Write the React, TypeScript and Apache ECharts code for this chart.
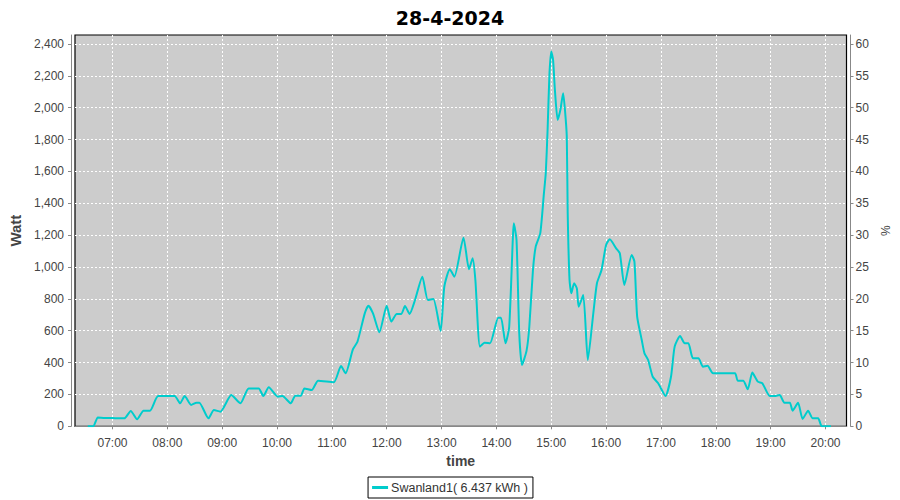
import React, { useEffect, useRef } from "react";
import * as echarts from "echarts";

const chartTitle = "28-4-2024";
const seriesName = "Swanland1( 6.437 kWh )";

const times: string[] = [
  "06:33", "06:39", "06:44", "06:52", "07:00", "07:06", "07:13", "07:20", "07:27", "07:34",
  "07:41", "07:50", "08:08", "08:14", "08:19", "08:26", "08:32", "08:35", "08:45", "08:51",
  "08:58", "09:10", "09:20", "09:29", "09:40", "09:45", "09:51", "10:01", "10:06", "10:15",
  "10:20", "10:26", "10:30", "10:38", "10:45", "11:02", "11:10", "11:15", "11:23", "11:28",
  "11:36", "11:40", "11:45", "11:52", "12:00", "12:05", "12:11", "12:16", "12:20", "12:25",
  "12:31", "12:39", "12:45", "12:51", "12:59", "13:03", "13:09", "13:14", "13:24", "13:30",
  "13:34", "13:37", "13:42", "13:47", "13:53", "14:02", "14:05", "14:10", "14:14", "14:18",
  "14:19", "14:22", "14:25", "14:28", "14:33", "14:36", "14:40", "14:43", "14:48", "14:52",
  "14:54", "14:56", "14:58", "15:00", "15:02", "15:04", "15:07", "15:10", "15:13", "15:15",
  "15:17", "15:18", "15:20", "15:22", "15:25", "15:28", "15:30", "15:35", "15:40", "15:46",
  "15:50", "15:55", "16:00", "16:04", "16:11", "16:15", "16:20", "16:28", "16:31", "16:34",
  "16:39", "16:42", "16:46", "16:51", "16:57", "17:05", "17:11", "17:15", "17:21", "17:26",
  "17:30", "17:35", "17:41", "17:46", "17:51", "17:57", "18:21", "18:24", "18:30", "18:35",
  "18:40", "18:46", "18:51", "18:59", "19:04", "19:10", "19:15", "19:21", "19:24", "19:30",
  "19:35", "19:41", "19:46", "19:52", "19:56", "20:06",
];

const watts: number[] = [
  0, 0, 56, 52, 52, 50, 50, 96, 44, 98,
  98, 190, 190, 144, 190, 134, 148, 148, 50, 102,
  92, 196, 144, 238, 238, 190, 245, 186, 190, 144,
  192, 192, 238, 228, 286, 276, 378, 333, 483, 531,
  709, 757, 709, 590, 757, 657, 705, 705, 755, 705,
  793, 939, 793, 799, 598, 876, 986, 939, 1184, 986,
  1055, 918, 500, 525, 521, 682, 682, 521, 625, 1180,
  1274, 1170, 584, 385, 475, 625, 981, 1128, 1212, 1463,
  1588, 1860, 2206, 2352, 2300, 2111, 1923, 1986, 2091, 1986,
  1818, 1337, 918, 835, 898, 866, 751, 824, 416, 709,
  898, 981, 1138, 1174, 1117, 1086, 887, 1075, 1034, 688,
  542, 458, 416, 311, 270, 190, 311, 500, 567, 521,
  521, 427, 427, 374, 380, 333, 333, 286, 286, 232,
  337, 280, 270, 190, 190, 196, 148, 148, 98, 148,
  46, 98, 50, 50, 0, 0,
];

const xStart = "06:19";
const xEnd = "20:23";
const wattMax = 2456;
const pctMax = 61.4;

function ts(hm: string): number {
  const [h, m] = hm.split(":").map(Number);
  return new Date(2024, 3, 28, h, m).getTime();
}
function pad(n: number) {
  return n < 10 ? "0" + n : "" + n;
}

export default function App() {
  const ref = useRef<HTMLDivElement>(null);
  useEffect(() => {
    if (!ref.current) return;
    const chart = echarts.init(ref.current, undefined, { renderer: "svg" });
    const labelFont = { fontFamily: "Liberation Sans", fontSize: 12, color: "#444" };
    const nameFont = { fontFamily: "Liberation Sans", fontSize: 14, fontWeight: "bold" as const, color: "#444" };
    const axisLine = { show: true, lineStyle: { color: "#888", width: 1 } };
    const axisTick = { show: true, length: 3, lineStyle: { color: "#888" } };
    const gridLine = {
      show: true,
      showMinLine: false,
      showMaxLine: false,
      lineStyle: { color: "#fff", type: [2, 2], width: 1 },
    };
    chart.setOption({
      animation: false,
      backgroundColor: "#fff",
      title: {
        text: chartTitle,
        left: "center",
        top: 3,
        textStyle: { fontFamily: "DejaVu Sans", fontWeight: "bold", fontSize: 19, color: "#000" },
      },
      grid: {
        left: 75,
        right: 53.5,
        top: 35,
        bottom: 73.7,
        show: true,
        backgroundColor: "#cccccc",
        borderColor: "#000",
        borderWidth: 1.2,
      },
      legend: {
        bottom: 2,
        left: "center",
        data: [seriesName],
        icon: "rect",
        itemWidth: 16,
        itemHeight: 3,
        itemGap: 4,
        borderColor: "#000",
        borderWidth: 1,
        padding: [4, 5, 4, 4],
        textStyle: { fontFamily: "Liberation Sans", fontSize: 12.5, color: "#333", padding: [0, 0, 0, -2] },
      },
      xAxis: {
        type: "time",
        min: ts(xStart),
        max: ts(xEnd),
        minInterval: 3600 * 1000,
        maxInterval: 3600 * 1000,
        offset: 4,
        name: "time",
        nameLocation: "middle",
        nameGap: 22,
        nameTextStyle: nameFont,
        axisLine,
        axisTick,
        axisLabel: {
          ...labelFont,
          margin: 7,
          showMinLabel: false,
          showMaxLabel: false,
          formatter: (v: number) => {
            const d = new Date(v);
            return pad(d.getHours()) + ":" + pad(d.getMinutes());
          },
        },
        splitLine: gridLine,
      },
      yAxis: [
        {
          type: "value",
          min: 0,
          max: wattMax,
          interval: 200,
          offset: 4,
          position: "left",
          name: "Watt",
          nameLocation: "middle",
          nameGap: 44,
          nameRotate: 90,
          nameTextStyle: { ...nameFont, fontSize: 15 },
          axisLine,
          axisTick,
          axisLabel: {
            ...labelFont,
            margin: 7,
            showMaxLabel: false,
            formatter: (v: number) => v.toLocaleString("en-US"),
          },
          splitLine: gridLine,
        },
        {
          type: "value",
          min: 0,
          max: pctMax,
          interval: 5,
          offset: 4,
          position: "right",
          name: "%",
          nameLocation: "middle",
          nameGap: 23,
          nameRotate: 90,
          nameTextStyle: { ...nameFont, fontSize: 12, fontWeight: "normal" },
          axisLine,
          axisTick,
          axisLabel: { ...labelFont, margin: 5, showMaxLabel: false },
          splitLine: { show: false },
        },
      ],
      series: [
        {
          name: seriesName,
          type: "line",
          yAxisIndex: 0,
          data: times.map((t, i) => [ts(t), watts[i]]),
          showSymbol: false,
          smooth: 0.2,
          lineStyle: { color: "#00cccc", width: 2 },
          itemStyle: { color: "#00cccc" },
        },
      ],
    });
    return () => chart.dispose();
  }, []);
  return (
    <div
      ref={ref}
      style={{ position: "fixed", left: 0, top: 0, width: 900, height: 500 }}
    />
  );
}
